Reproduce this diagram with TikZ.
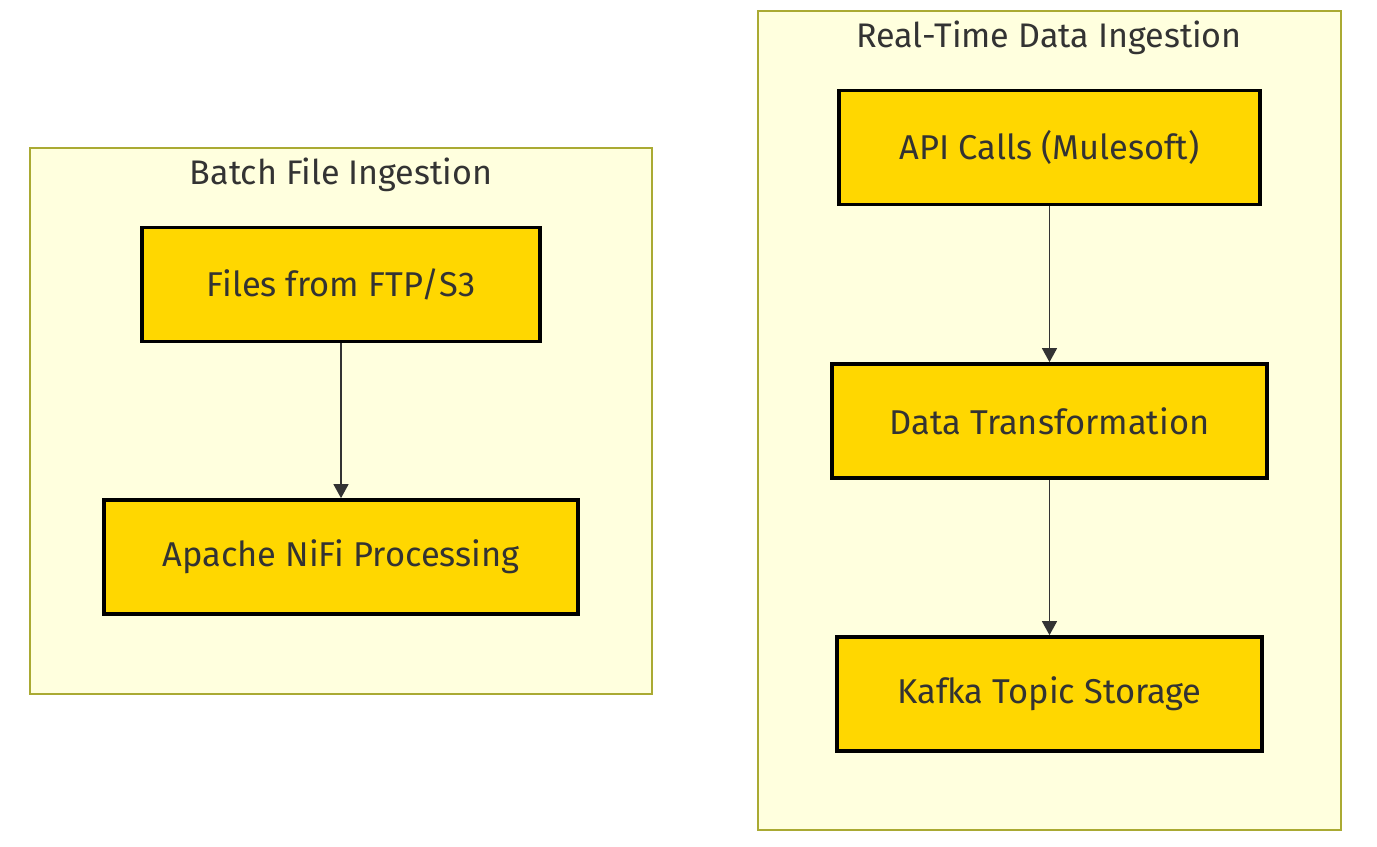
\documentclass[tikz,border=0pt]{standalone}
\usepackage{fontspec}
\setmainfont{Fira Sans}
\usetikzlibrary{arrows.meta}
\definecolor{boxfill}{HTML}{FFD700}
\definecolor{clusterfill}{HTML}{FFFFDE}
\definecolor{clusterline}{HTML}{AAAA33}
\definecolor{textgray}{HTML}{333333}
\begin{document}
\begin{tikzpicture}[x=0.02cm,y=-0.02cm,
                cluster/.style={rectangle,draw=clusterline,fill=clusterfill,line width=0.7pt},
                procbox/.style={rectangle,draw=black,fill=boxfill,line width=2.1pt,
                inner sep=0pt,minimum height=1.14*2cm,text=textgray,font=\fontsize{19.6}{22}\selectfont},
                title/.style={text=textgray,font=\fontsize{19.4}{22}\selectfont},
                flow/.style={-{Triangle[length=8pt,width=8.5pt]},draw=textgray,line width=1pt}]
                \useasboundingbox (0,0) rectangle (1377,847);
                \draw[cluster] (30,148) rectangle (652,694);
                \draw[cluster] (758,11) rectangle (1341,830);
                \node (batch) at (341,175) [title] {Batch File Ingestion};
                \node (realtime) at (1049,38) [title] {Real-Time Data Ingestion};
                \node (files) at (341,284.5) [procbox,minimum width=398*0.02cm] {Files from FTP/S3};
                \node (nifi) at (341,557) [procbox,minimum width=474*0.02cm] {Apache NiFi Processing};
                \node (api) at (1049.5,147.5) [procbox,minimum width=421*0.02cm] {API Calls (Mulesoft)};
                \node (transform) at (1049.5,421) [procbox,minimum width=435*0.02cm] {Data Transformation};
                \node (kafka) at (1049.5,694) [procbox,minimum width=425*0.02cm] {Kafka Topic Storage};
                \draw[flow] (files) -- (nifi);
                \draw[flow] (api) -- (transform);
                \draw[flow] (transform) -- (kafka);
            \end{tikzpicture}
\end{document}
